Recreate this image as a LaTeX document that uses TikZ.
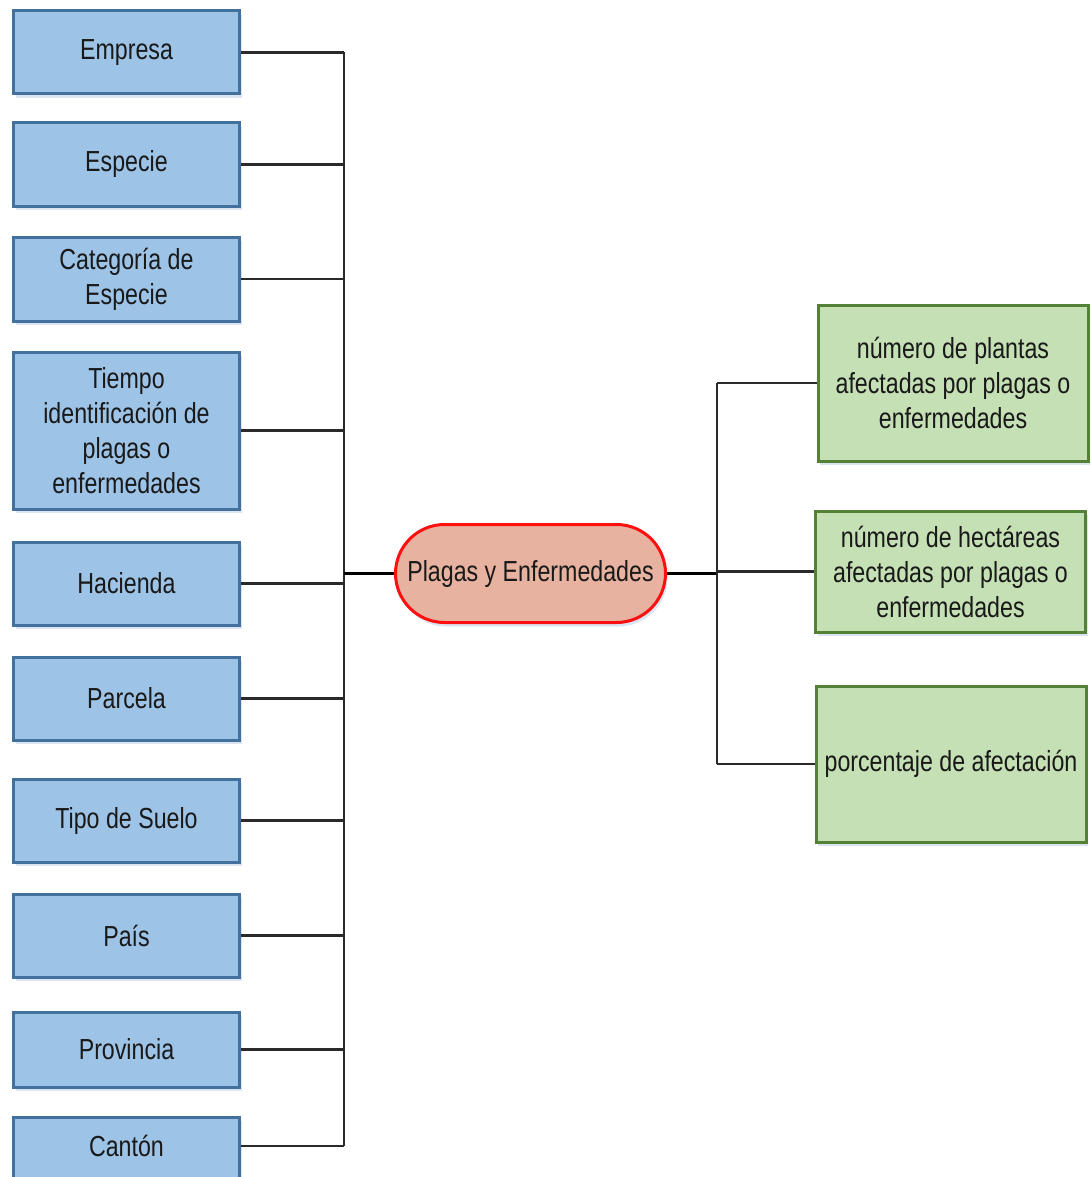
\documentclass[tikz,border=0pt]{standalone}
\usepackage{fontspec}
\newfontfamily\boxfont{Liberation Sans}[FakeStretch=0.8]
\usetikzlibrary{shadows}
\definecolor{bluefill}{HTML}{9DC3E6}
\definecolor{blueline}{HTML}{41719C}
\definecolor{greenfill}{HTML}{C5E0B4}
\definecolor{greenline}{HTML}{538135}
\definecolor{hubfill}{HTML}{E8B2A0}
\definecolor{hubline}{HTML}{FF1010}
\definecolor{wire}{HTML}{2A2A2A}
\definecolor{shade}{HTML}{B8CCE4}
\tikzset{
  label text/.style={font=\boxfont\fontsize{29}{35}\selectfont, text=black!90, align=center, inner sep=0pt},
  boxshade/.style={drop shadow={shadow xshift=2pt, shadow yshift=-4pt, fill=shade, opacity=0.5}},
  bluebox/.style={label text, draw=blueline, fill=bluefill, line width=3pt, minimum width=226pt, boxshade},
  greenbox/.style={label text, draw=greenline, fill=greenfill, line width=3pt, minimum width=270pt, boxshade},
  hubbox/.style={label text, draw=hubline, fill=hubfill, line width=3pt, rounded corners=49pt,
    minimum width=270pt, minimum height=98pt, boxshade},
  wireline/.style={draw=wire, line width=2.2pt},
  hubwire/.style={draw=black, line width=3.2pt},
}
\begin{document}
\begin{tikzpicture}[x=1pt, y=-1pt]
\useasboundingbox (0,0) rectangle (1090,1177);
\clip (0,0) rectangle (1090,1177);
\fill[white] (0,0) rectangle (1090,1177);

% left column of attributes
\node[bluebox, minimum height=83pt]  (emp)  at (126.5,52.5)  {Empresa};
\node[bluebox, minimum height=83pt]  (esp)  at (126.5,164.5) {Especie};
\node[bluebox, minimum height=84pt]  (cat)  at (126.5,279)   {Categoría de\\Especie};
\node[bluebox, minimum height=157pt] (tie)  at (126.5,430.5) {Tiempo\\identificación de\\plagas o\\enfermedades};
\node[bluebox, minimum height=83pt]  (hac)  at (126.5,583.5) {Hacienda};
\node[bluebox, minimum height=83pt]  (par)  at (126.5,698.5) {Parcela};
\node[bluebox, minimum height=83pt]  (tip)  at (126.5,820.5) {Tipo de Suelo};
\node[bluebox, minimum height=83pt]  (pai)  at (126.5,935.5) {País};
\node[bluebox, minimum height=75pt]  (pro)  at (126.5,1049.5) {Provincia};
\node[bluebox, minimum height=83pt]  (can)  at (126.5,1158.5) {};
\node[label text] (cantxt) at (126.5,1146) {Cantón};

% central topic
\node[hubbox] (hub) at (530.5,573.5) {Plagas y Enfermedades};

% right column of measures
\node[greenbox, minimum height=156pt] (npl) at (953,383)   {número de plantas\\afectadas por plagas o\\enfermedades};
\node[greenbox, minimum height=121pt] (nha) at (950.5,571.5) {número de hectáreas\\afectadas por plagas o\\enfermedades};
\node[greenbox, minimum height=156pt] (por) at (951,764)   {porcentaje de afectación};

% buses
\coordinate (lbus) at (344,573.5);
\coordinate (rbus) at (717,573.5);
\coordinate (canpt) at (can.west |- cantxt);

\foreach \n in {emp,esp,cat,tie,hac,par,tip,pai,pro}
  \draw[wireline] (\n.east) -- (\n.east -| lbus);
\draw[wireline] (canpt -| can.east) -- (canpt -| lbus);
\draw[wireline] (emp.east -| lbus) -- (canpt -| lbus);
\draw[hubwire] (lbus) -- (hub.west);

\draw[hubwire] (hub.east) -- (rbus);
\draw[wireline] (npl.west -| rbus) -- (por.west -| rbus);
\foreach \n in {npl,nha,por}
  \draw[wireline] (\n.west -| rbus) -- (\n.west);
\end{tikzpicture}
\end{document}
